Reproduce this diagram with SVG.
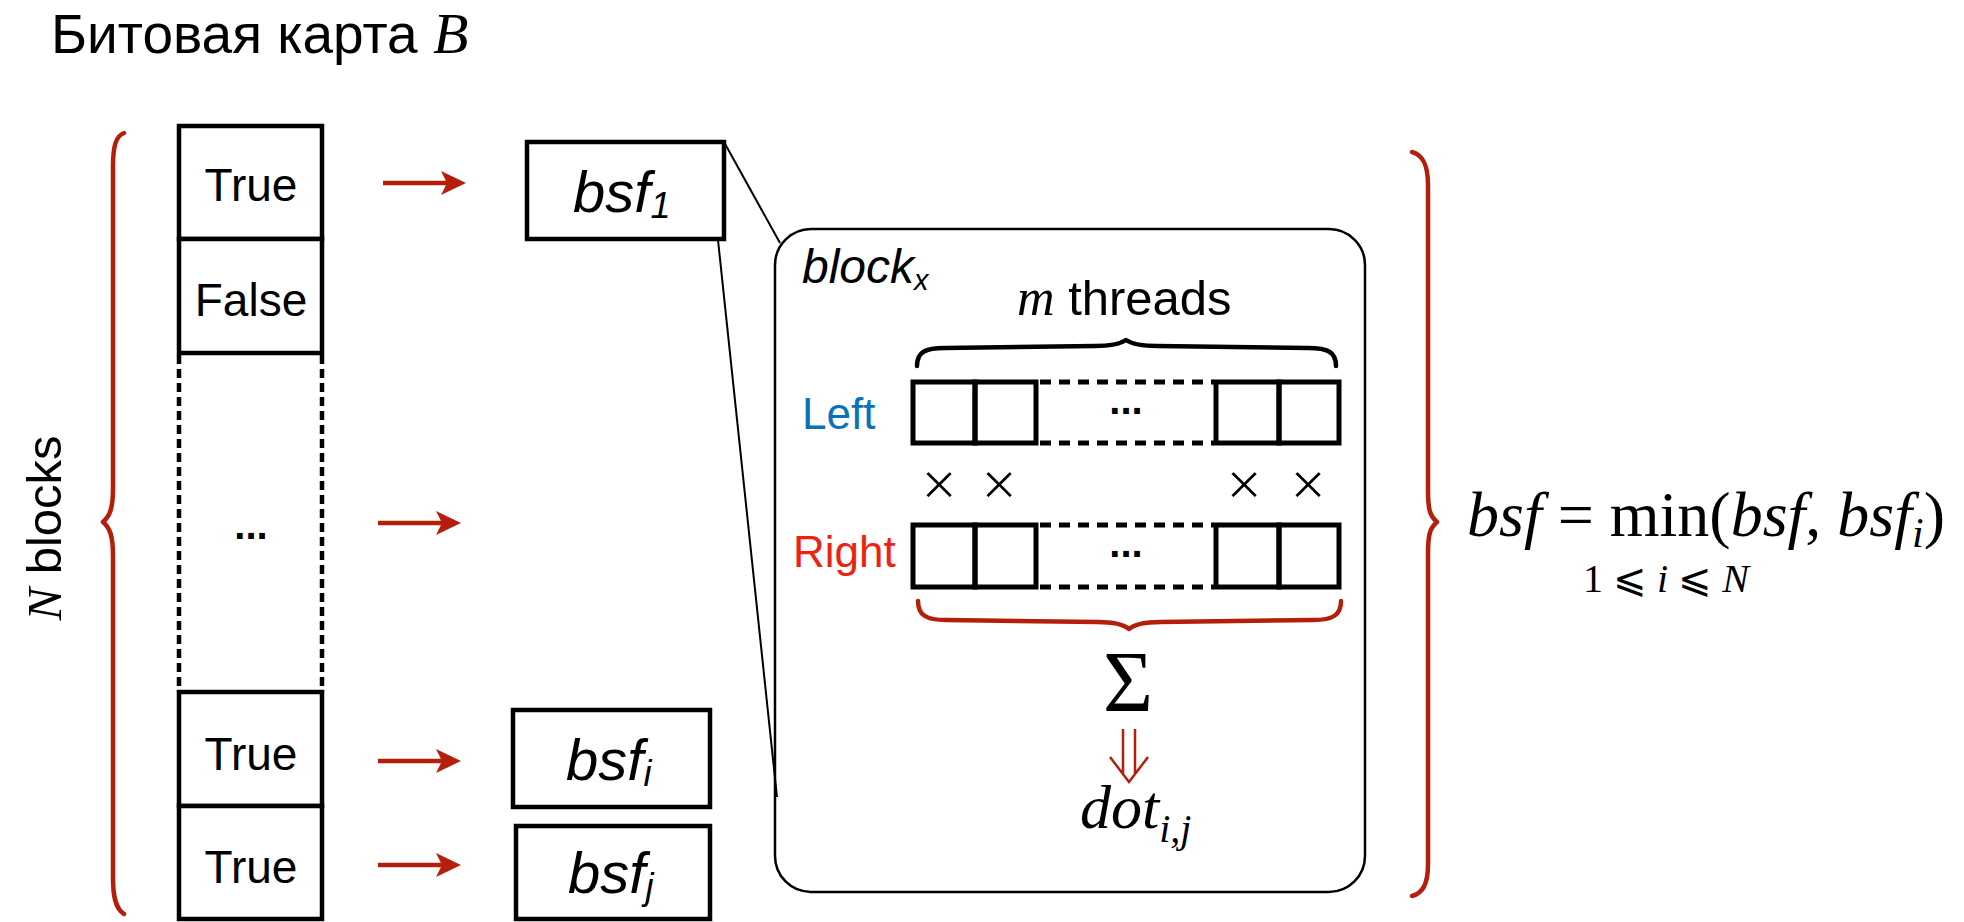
<svg xmlns="http://www.w3.org/2000/svg" width="1964" height="922" viewBox="0 0 1964 922">
<style>
.sans{font-family:"Liberation Sans","Helvetica Neue",Arial,sans-serif;}
.serif{font-family:"Liberation Serif","DejaVu Serif","Times New Roman",serif;}
.box{fill:#fff;stroke:#000;stroke-width:4.5;}
.cell{fill:none;stroke:#000;stroke-width:5;}
.dash{fill:none;stroke:#000;stroke-width:4.5;stroke-dasharray:9 5;}
.rdash{fill:none;stroke:#000;stroke-width:5;stroke-dasharray:11 8;}
.lbl{font-size:46px;fill:#000;}
.bsf{font-size:58px;font-style:italic;}
.red{stroke:#B41E0A;}
.brace{fill:none;stroke-width:4.5;stroke-linecap:round;stroke-linejoin:round;}
.zoomln{stroke:#000;stroke-width:2;fill:none;}
.dots{font-size:40px;font-weight:bold;}
.times{font-size:62px;stroke:#fff;stroke-width:1.6px;}
</style>
<defs>
<g id="arrow">
<line x1="0" y1="0" x2="66" y2="0" stroke="#B41E0A" stroke-width="4.5"/>
<path d="M83,0 L58,-12 L64,0 L58,12 Z" fill="#B41E0A"/>
</g>
</defs>
<rect width="1964" height="922" fill="#fff"/>

<g id="title">
<text class="sans" x="51" y="53" font-size="55">Битовая карта <tspan class="serif" font-style="italic" font-size="58">B</tspan></text>
</g>

<g id="left-brace">
<path class="brace red" d="M124,133 C116,136 113,146 113,166 L113,488 C113,508 110,516 103,522 C110,528 113,536 113,556 L113,878 C113,898 116,909 124,914"/>
</g>

<g id="n-blocks">
<text class="sans" transform="translate(61,528) rotate(-90)" text-anchor="middle" font-size="49"><tspan class="serif" font-style="italic">N</tspan> blocks</text>
</g>

<g id="bitmap">
<g id="cell-true-1">
<rect class="box" x="179" y="126" width="143" height="113"/>
<text class="sans lbl" x="251" y="201" text-anchor="middle">True</text>
</g>
<g id="cell-false">
<rect class="box" x="179" y="239" width="143" height="114"/>
<text class="sans lbl" x="251" y="316" text-anchor="middle">False</text>
</g>
<g id="cell-dots">
<line class="dash" x1="179" y1="355" x2="179" y2="692"/>
<line class="dash" x1="322" y1="355" x2="322" y2="692"/>
<text class="sans dots" x="251" y="539" text-anchor="middle">...</text>
</g>
<g id="cell-true-i">
<rect class="box" x="179" y="692" width="143" height="114"/>
<text class="sans lbl" x="251" y="770" text-anchor="middle">True</text>
</g>
<g id="cell-true-j">
<rect class="box" x="179" y="806" width="143" height="113"/>
<text class="sans lbl" x="251" y="883" text-anchor="middle">True</text>
</g>
</g>

<g id="bsf-1">
<rect class="box" x="527" y="142" width="197" height="97"/>
<text class="sans bsf" x="573" y="212">bsf<tspan font-size="36" dy="6">1</tspan></text>
</g>
<g id="bsf-i">
<rect class="box" x="513" y="710" width="197" height="97"/>
<text class="sans bsf" x="566" y="780">bsf<tspan font-size="36" dy="6">i</tspan></text>
</g>
<g id="bsf-j">
<rect class="box" x="516" y="826" width="194" height="93"/>
<text class="sans bsf" x="568" y="893">bsf<tspan font-size="36" dy="6">j</tspan></text>
</g>

<g id="connectors">
<use href="#arrow" x="383" y="183"/>
<use href="#arrow" x="378" y="523"/>
<use href="#arrow" x="378" y="761"/>
<use href="#arrow" x="378" y="865"/>
<line class="zoomln" x1="724" y1="142" x2="780" y2="243"/>
<line class="zoomln" x1="718" y1="240" x2="777" y2="797"/>
</g>

<g id="block-x">
<rect x="775" y="229" width="590" height="663" rx="36" ry="36" fill="none" stroke="#000" stroke-width="2.5"/>
<text class="sans" x="802" y="283" font-size="48" font-style="italic">block<tspan font-size="29" dy="7">x</tspan></text>
<text class="sans" x="1017" y="315" font-size="49"><tspan class="serif" font-style="italic" font-size="52">m</tspan> threads</text>
<path class="brace" stroke="#000" stroke-width="4" d="M917,366 C917,352 925,348 945,348 L1095,346 C1110,346 1120,344 1126,340 C1132,344 1142,346 1157,346 L1308,348 C1328,348 1336,352 1336,366"/>

<g id="left-row">
<text class="sans" x="802" y="429" font-size="44" fill="#0A72BA">Left</text>
<rect class="cell" x="913" y="382" width="62" height="61"/>
<rect class="cell" x="975" y="382" width="61" height="61"/>
<line class="rdash" x1="1040" y1="382" x2="1214" y2="382"/>
<line class="rdash" x1="1040" y1="443" x2="1214" y2="443"/>
<text class="sans dots" x="1126" y="414" text-anchor="middle">...</text>
<rect class="cell" x="1216" y="382" width="63" height="61"/>
<rect class="cell" x="1279" y="382" width="60" height="61"/>
</g>

<g id="times-row" class="sans times">
<text x="939" y="505" text-anchor="middle">×</text>
<text x="999" y="505" text-anchor="middle">×</text>
<text x="1244" y="505" text-anchor="middle">×</text>
<text x="1308" y="505" text-anchor="middle">×</text>
</g>

<g id="right-row">
<text class="sans" x="793" y="567" font-size="44" fill="#EE2211">Right</text>
<rect class="cell" x="913" y="525" width="62" height="62"/>
<rect class="cell" x="975" y="525" width="61" height="62"/>
<line class="rdash" x1="1040" y1="525" x2="1214" y2="525"/>
<line class="rdash" x1="1040" y1="587" x2="1214" y2="587"/>
<text class="sans dots" x="1126" y="557" text-anchor="middle">...</text>
<rect class="cell" x="1216" y="525" width="63" height="62"/>
<rect class="cell" x="1279" y="525" width="60" height="62"/>
</g>

<path class="brace red" d="M918,601 C918,615 926,620 946,620 L1098,622 C1113,622 1123,624 1129,629 C1135,624 1145,622 1160,622 L1313,620 C1333,620 1341,615 1341,601"/>
<text class="serif" x="1128" y="711" font-size="86" text-anchor="middle">Σ</text>
<path d="M1123,729 L1123,774 M1135,729 L1135,774 M1110,757 L1129,782 L1148,757" fill="none" stroke="#B41E0A" stroke-width="2.5"/>
<text class="serif" x="1080" y="828" font-size="62" font-style="italic">dot<tspan font-size="40" dy="14">i,j</tspan></text>
</g>

<g id="right-brace">
<path class="brace red" d="M1412,152 C1423,155 1428,165 1428,185 L1428,490 C1428,510 1430,516 1437,522 C1430,528 1428,534 1428,554 L1428,864 C1428,884 1423,893 1412,896"/>
</g>

<g id="formula" class="serif">
<text x="1467" y="536" font-size="64"><tspan font-style="italic">bsf</tspan> = min(<tspan font-style="italic">bsf</tspan>, <tspan font-style="italic">bsf<tspan font-size="42" dy="11">i</tspan></tspan><tspan dy="-11">)</tspan></text>
<text x="1583" y="592" font-size="40">1 ⩽ <tspan font-style="italic">i</tspan> ⩽ <tspan font-style="italic">N</tspan></text>
</g>
</svg>
